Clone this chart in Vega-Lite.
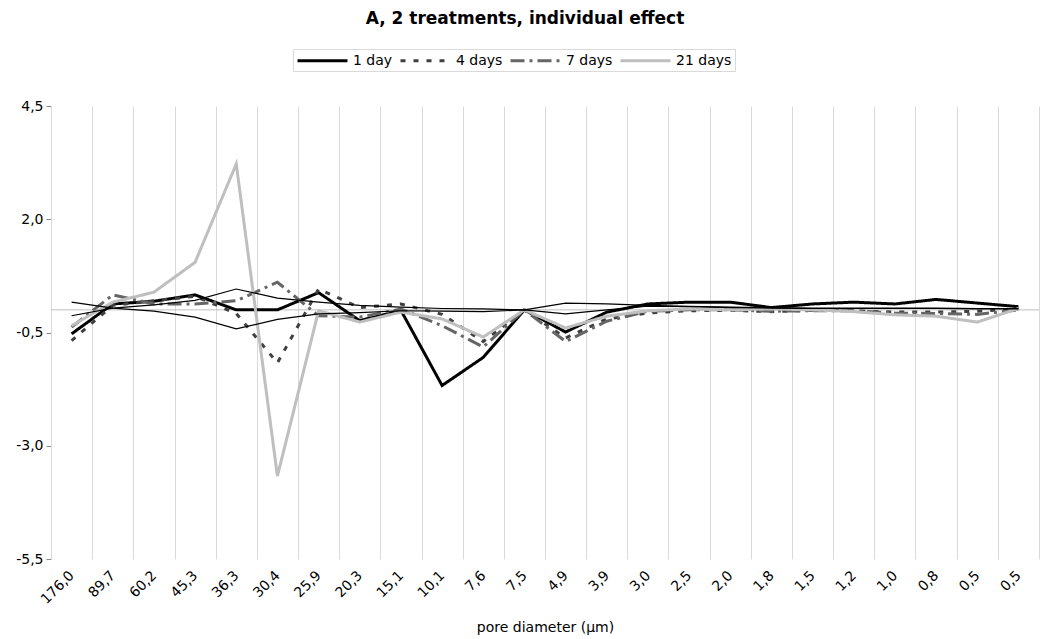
{
  "$schema": "https://vega.github.io/schema/vega-lite/v6.json",
  "width": 988,
  "height": 453,
  "autosize": {"type": "none"},
  "padding": {"left": 51, "top": 106, "right": 3, "bottom": 80},
  "title": {
    "text": "A, 2 treatments, individual effect",
    "font": "DejaVu Sans",
    "fontSize": 17,
    "fontWeight": "bold",
    "color": "#000000",
    "anchor": "middle",
    "frame": "group",
    "dx": -20,
    "offset": 21
  },
  "config": {
    "font": "DejaVu Sans",
    "locale": {
      "number": {"decimal": ",", "thousands": ".", "grouping": [3], "currency": ["", ""], "minus": "-"}
    },
    "view": {"stroke": null},
    "legend": {
      "orient": "none",
      "legendX": 242,
      "legendY": -57,
      "direction": "horizontal",
      "symbolType": "M-1,0H6.14",
      "symbolSize": 196,
      "symbolStrokeWidth": 3,
      "labelFont": "DejaVu Sans",
      "labelFontSize": 14,
      "labelColor": "#000000",
      "labelOffset": 40,
      "columnPadding": 1,
      "padding": 3,
      "strokeColor": "#d9d9d9"
    }
  },
  "layer": [
    {
      "data": {"values": [{}]},
      "mark": {"type": "rule", "color": "#bfbfbf", "strokeWidth": 1},
      "encoding": {"y": {"datum": 0, "type": "quantitative"}}
    },
    {
      "data": {
        "values": [
          {"d": "176,0", "1 day": -0.53, "4 days": -0.68, "7 days": -0.38, "21 days": -0.35, "ref a": 0.17, "ref b": -0.13},
          {"d": "89,7", "1 day": 0.13, "4 days": 0.1, "7 days": 0.33, "21 days": 0.17, "ref a": 0.04, "ref b": 0.04},
          {"d": "60,2", "1 day": 0.19, "4 days": 0.2, "7 days": 0.13, "21 days": 0.39, "ref a": -0.03, "ref b": 0.11},
          {"d": "45,3", "1 day": 0.33, "4 days": 0.3, "7 days": 0.13, "21 days": 1.05, "ref a": -0.16, "ref b": 0.21},
          {"d": "36,3", "1 day": 0.0, "4 days": -0.08, "7 days": 0.2, "21 days": 3.22, "ref a": -0.42, "ref b": 0.46},
          {"d": "30,4", "1 day": 0.0, "4 days": -1.17, "7 days": 0.61, "21 days": -3.67, "ref a": -0.21, "ref b": 0.26},
          {"d": "25,9", "1 day": 0.38, "4 days": 0.46, "7 days": -0.13, "21 days": -0.02, "ref a": -0.09, "ref b": 0.17},
          {"d": "20,3", "1 day": -0.24, "4 days": 0.05, "7 days": -0.16, "21 days": -0.27, "ref a": -0.06, "ref b": 0.1},
          {"d": "15,1", "1 day": -0.01, "4 days": 0.13, "7 days": 0.02, "21 days": -0.05, "ref a": -0.02, "ref b": 0.06},
          {"d": "10,1", "1 day": -1.67, "4 days": -0.1, "7 days": -0.35, "21 days": -0.2, "ref a": -0.03, "ref b": 0.03},
          {"d": "7,6", "1 day": -1.05, "4 days": -0.7, "7 days": -0.82, "21 days": -0.6, "ref a": -0.04, "ref b": 0.02},
          {"d": "7,5", "1 day": 0.0, "4 days": 0.0, "7 days": 0.0, "21 days": 0.0, "ref a": 0.0, "ref b": 0.0},
          {"d": "4,9", "1 day": -0.49, "4 days": -0.62, "7 days": -0.7, "21 days": -0.4, "ref a": -0.09, "ref b": 0.15},
          {"d": "3,9", "1 day": -0.05, "4 days": -0.2, "7 days": -0.25, "21 days": -0.14, "ref a": 0.0, "ref b": 0.13},
          {"d": "3,0", "1 day": 0.13, "4 days": -0.07, "7 days": -0.03, "21 days": -0.02, "ref a": 0.08, "ref b": 0.1},
          {"d": "2,5", "1 day": 0.17, "4 days": -0.02, "7 days": 0.0, "21 days": 0.02, "ref a": 0.07, "ref b": 0.08},
          {"d": "2,0", "1 day": 0.17, "4 days": -0.01, "7 days": 0.0, "21 days": 0.0, "ref a": 0.05, "ref b": 0.06},
          {"d": "1,8", "1 day": 0.05, "4 days": -0.04, "7 days": -0.03, "21 days": 0.02, "ref a": 0.04, "ref b": 0.05},
          {"d": "1,5", "1 day": 0.13, "4 days": -0.01, "7 days": -0.02, "21 days": 0.0, "ref a": 0.03, "ref b": 0.04},
          {"d": "1,2", "1 day": 0.17, "4 days": -0.02, "7 days": -0.02, "21 days": -0.04, "ref a": 0.03, "ref b": 0.04},
          {"d": "1,0", "1 day": 0.13, "4 days": -0.05, "7 days": -0.07, "21 days": -0.11, "ref a": 0.03, "ref b": 0.04},
          {"d": "0,8", "1 day": 0.23, "4 days": -0.05, "7 days": -0.08, "21 days": -0.14, "ref a": 0.03, "ref b": 0.04},
          {"d": "0,5", "1 day": 0.15, "4 days": -0.03, "7 days": -0.1, "21 days": -0.27, "ref a": 0.02, "ref b": 0.03},
          {"d": "0,5\u200b", "1 day": 0.07, "4 days": 0.02, "7 days": 0.0, "21 days": 0.03, "ref a": 0.02, "ref b": 0.03}
        ]
      },
      "transform": [
        {"fold": ["1 day", "4 days", "7 days", "21 days", "ref a", "ref b"], "as": ["series", "value"]}
      ],
      "encoding": {
        "x": {
          "field": "d",
          "type": "ordinal",
          "sort": null,
          "scale": {"type": "band", "paddingInner": 0, "paddingOuter": 0},
          "axis": {
            "title": "pore diameter (µm)",
            "grid": true,
            "gridColor": "#d9d9d9",
            "tickBand": "extent",
            "ticks": false,
            "domain": false,
            "labelAngle": -45,
            "labelAlign": "right",
            "labelBaseline": "middle",
            "labelPadding": 14,
            "labelFontSize": 14,
            "labelColor": "#000000",
            "labelOverlap": false,
            "titleFontSize": 14,
            "titleFontWeight": "normal",
            "titleColor": "#000000",
            "titlePadding": 14
          }
        },
        "y": {
          "field": "value",
          "type": "quantitative",
          "scale": {"domain": [-5.5, 4.5], "nice": false, "zero": false},
          "axis": {
            "title": null,
            "values": [-5.5, -3, -0.5, 2, 4.5],
            "format": ".1f",
            "grid": false,
            "domainColor": "#d9d9d9",
            "tickColor": "#868686",
            "tickSize": 5,
            "labelPadding": 3,
            "labelFontSize": 14,
            "labelColor": "#000000",
            "labelFlush": false
          }
        }
      },
      "layer": [
        {
          "transform": [{"filter": "datum.series != 'ref a' && datum.series != 'ref b'"}],
          "mark": {"type": "line", "strokeWidth": 3, "strokeCap": "butt"},
          "encoding": {
            "color": {
              "field": "series",
              "type": "nominal",
              "scale": {
                "domain": ["1 day", "4 days", "7 days", "21 days"],
                "range": ["#000000", "#404040", "#666666", "#bfbfbf"]
              },
              "legend": {"title": null, "values": ["1 day", "4 days", "7 days", "21 days"]}
            },
            "strokeDash": {
              "field": "series",
              "type": "nominal",
              "scale": {
                "domain": ["1 day", "4 days", "7 days", "21 days"],
                "range": [[1, 0], [5, 8], [14, 5, 3, 5], [1, 0]]
              },
              "legend": {"title": null, "values": ["1 day", "4 days", "7 days", "21 days"]}
            }
          }
        },
        {
          "transform": [{"filter": "datum.series == 'ref a' || datum.series == 'ref b'"}],
          "mark": {"type": "line", "strokeWidth": 1.2, "color": "#000000"},
          "encoding": {
            "detail": {"field": "series", "type": "nominal"}
          }
        }
      ]
    }
  ]
}
